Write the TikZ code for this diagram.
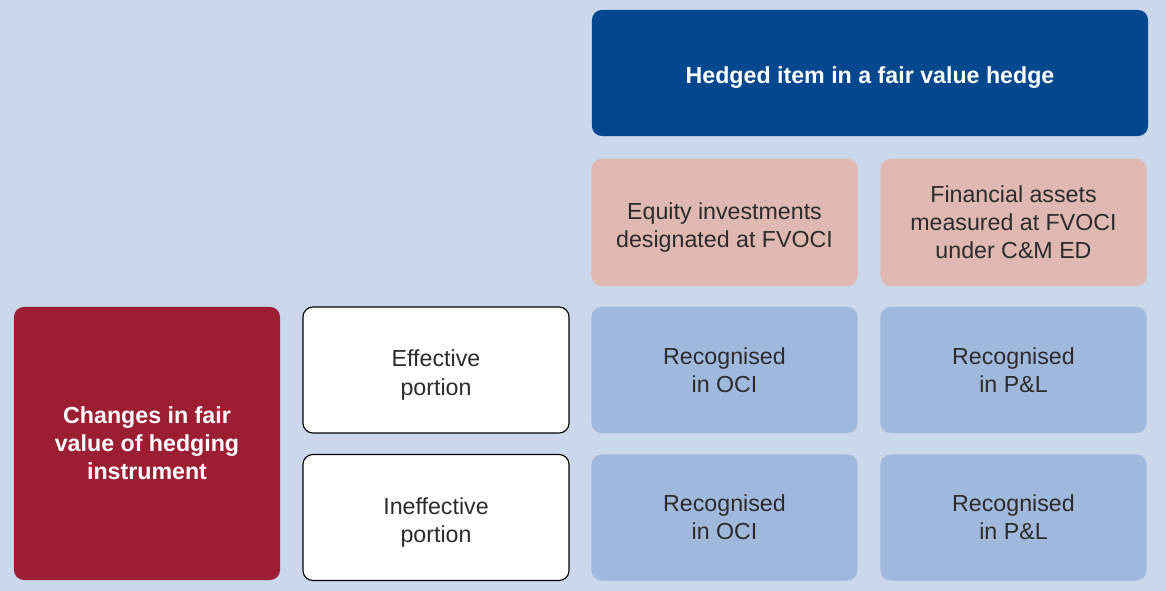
\documentclass[tikz,border=0pt]{standalone}
\usepackage{fontspec}
\setmainfont{Liberation Sans}
\definecolor{bgblue}{HTML}{CBD7EA}
\definecolor{hedgeblue}{HTML}{03478F}
\definecolor{assetpink}{HTML}{DFB9B1}
\definecolor{instrred}{HTML}{9B1E33}
\definecolor{resultblue}{HTML}{A1B8DD}
\definecolor{textgray}{HTML}{2B2B2B}
\newcommand{\dropline}{\rule{0pt}{19pt}}
\tikzset{
  box/.style={rounded corners=0.25cm, minimum width=6.65cm, minimum height=3.15cm,
    align=center, inner sep=0pt, text=textgray, font=\fontsize{16.5}{20}\selectfont},
  headbox/.style={box, fill=hedgeblue, text=white, minimum width=13.9cm,
    font=\fontsize{16.5}{20}\selectfont\bfseries},
  assetbox/.style={box, fill=assetpink, minimum height=3.175cm},
  instrbox/.style={box, fill=instrred, text=white, minimum height=6.825cm,
    font=\fontsize{16.5}{20}\selectfont\bfseries},
  portionbox/.style={box, fill=white, draw=black, line width=0.8pt},
  resultbox/.style={box, fill=resultblue}
}
\begin{document}
\begin{tikzpicture}[x=0.025cm,y=-0.025cm]
    % background
    \fill[bgblue] (0,0) rectangle (1166,591);
    \useasboundingbox (0,0) rectangle (1166,591);
    % hedged item
    \node[headbox] (hedged) at (870,73) {\dropline Hedged item in a fair value hedge};
    \node[assetbox] (equity) at (724.5,222.5) {\dropline Equity investments\\designated at FVOCI};
    \node[assetbox] (finassets) at (1013.5,222.5) {Financial assets\\measured at FVOCI\\under C\&M ED};
    % hedging instrument
    \node[instrbox] (changes) at (147,443.5) {Changes in fair\\value of hedging\\instrument};
    \node[portionbox] (effective) at (436,370) {\dropline Effective\\portion};
    \node[portionbox] (ineffective) at (436,517.5) {\dropline Ineffective\\portion};
    % where it is recognised
    \node[resultbox] (effoci) at (724.5,370) {Recognised\\in OCI};
    \node[resultbox] (effpl) at (1013.5,370) {Recognised\\in P\&L};
    \node[resultbox] (ineffoci) at (724.5,517.5) {Recognised\\in OCI};
    \node[resultbox] (ineffpl) at (1013.5,517.5) {Recognised\\in P\&L};
\end{tikzpicture}
\end{document}
